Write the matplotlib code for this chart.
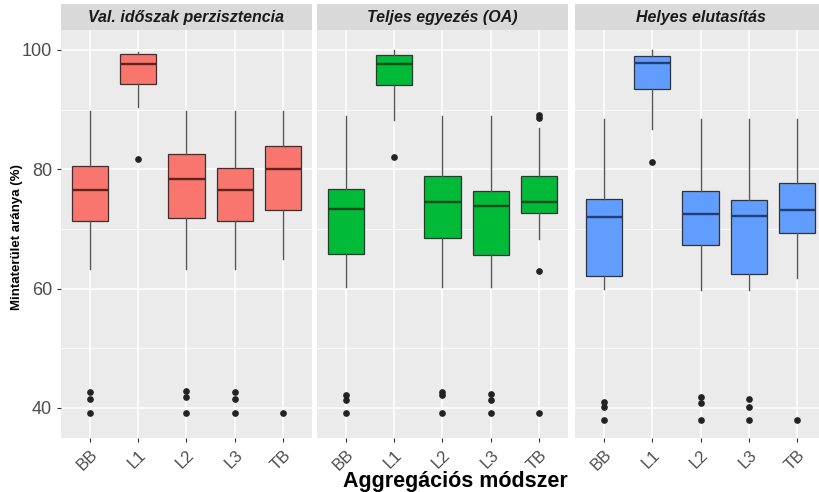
import matplotlib
matplotlib.use("Agg")
import matplotlib.pyplot as plt
from matplotlib.patches import Rectangle

plt.rcParams['font.family'] = ['Liberation Sans', 'DejaVu Sans']

methods = ["BB", "L1", "L2", "L3", "TB"]
facets = ["Val. időszak perzisztencia", "Teljes egyezés (OA)", "Helyes elutasítás"]
colors = ["#F8766D", "#00BA38", "#619CFF"]

# box statistics per facet, one value per method
q1 = [
    [71.4, 94.3, 71.9, 71.4, 73.1],
    [65.8, 94.1, 68.5, 65.7, 72.6],
    [62.1, 93.4, 67.3, 62.5, 69.3],
]
medians = [
    [76.5, 97.6, 78.4, 76.5, 80.0],
    [73.3, 97.7, 74.5, 73.8, 74.5],
    [72.0, 97.8, 72.5, 72.2, 73.2],
]
q3 = [
    [80.6, 99.4, 82.5, 80.3, 83.9],
    [76.7, 99.2, 78.9, 76.4, 78.8],
    [75.0, 99.0, 76.4, 74.8, 77.7],
]
whisk_lo = [
    [63.3, 90.5, 63.3, 63.3, 65.0],
    [60.2, 88.3, 60.2, 60.2, 68.3],
    [59.9, 86.8, 59.8, 59.8, 61.8],
]
whisk_hi = [
    [89.8, 99.7, 89.8, 89.8, 89.8],
    [89.0, 100.0, 89.0, 89.0, 86.9],
    [88.4, 100.0, 88.4, 88.4, 88.4],
]
outliers = [
    [[42.7, 41.5, 39.1], [81.7], [42.9, 41.9, 39.1], [42.6, 41.5, 39.1], [39.1]],
    [[42.1, 41.3, 39.1], [82.0], [42.7, 42.2, 39.1], [42.4, 41.4, 39.1], [89.1, 88.6, 62.9, 39.1]],
    [[41.0, 40.1, 38.0], [81.3], [41.8, 40.9, 38.0], [41.5, 40.2, 38.0], [38.0]],
]
medline_colors = ["#5E2420", "#0B4A1E", "#233F6E"]

fig = plt.figure(figsize=(8.2, 4.92), dpi=100)

W, H = 820, 492
panel_left = [61, 317, 575]
panel_w = 251
panel_top, panel_bot = 30, 438
strip_top = 4

grey30 = "#4D4D4D"
edge = "#333333"

for i in range(3):
    ax = fig.add_axes([panel_left[i] / W, 1 - panel_bot / H,
                       panel_w / W, (panel_bot - panel_top) / H])
    ax.set_facecolor("#EBEBEB")
    for s in ax.spines.values():
        s.set_visible(False)

    stats = []
    for j in range(len(methods)):
        stats.append(dict(med=medians[i][j], q1=q1[i][j], q3=q3[i][j],
                          whislo=whisk_lo[i][j], whishi=whisk_hi[i][j],
                          fliers=outliers[i][j]))
    pos = list(range(1, len(methods) + 1))
    ax.bxp(stats, positions=pos, widths=0.75, patch_artist=True, showcaps=False,
           boxprops=dict(facecolor=colors[i], edgecolor=edge, linewidth=0.9),
           medianprops=dict(color=medline_colors[i], linewidth=1.7),
           whiskerprops=dict(color="#555555", linewidth=1.0),
           flierprops=dict(marker="o", markersize=3.8, markerfacecolor="#222222",
                           markeredgecolor="#222222"),
           zorder=3)

    ax.set_xlim(0.4, 5.6)
    ax.set_ylim(34.97, 103.35)
    ax.set_yticks([40, 60, 80, 100])
    ax.set_yticks([50, 70, 90], minor=True)
    ax.set_xticks(pos)
    ax.grid(True, which="major", color="white", linewidth=1.1, zorder=0)
    ax.grid(True, which="minor", axis="y", color="white", linewidth=0.55, zorder=0)
    ax.set_axisbelow(True)
    ax.set_xticklabels(methods, rotation=45, ha="right", va="top",
                       rotation_mode="anchor", fontsize=12, color=grey30)
    ax.tick_params(axis="both", which="major", length=3, width=0.8, color="#333333")
    ax.tick_params(axis="y", which="minor", length=0)
    if i == 0:
        ax.set_yticklabels(["40", "60", "80", "100"], fontsize=13, color=grey30)
    else:
        ax.tick_params(axis="y", which="major", length=0, labelleft=False)

    # facet strip
    sax = fig.add_axes([panel_left[i] / W, 1 - panel_top / H,
                        panel_w / W, (panel_top - strip_top) / H])
    sax.add_patch(Rectangle((0, 0), 1, 1, color="#D9D9D9", transform=sax.transAxes))
    sax.set_axis_off()
    sax.text(0.5, 0.48, facets[i], ha="center", va="center", fontsize=11.5,
             fontweight="bold", fontstyle="italic", color="#1A1A1A",
             transform=sax.transAxes)

fig.text(455 / W, 1 - 481 / H, "Aggregációs módszer", ha="center", va="center",
         fontsize=15.5, fontweight="bold", color="black")
fig.text(17 / W, 1 - 237 / H, "Mintaterület aránya (%)", ha="center", va="center",
         rotation=90, fontsize=9.5, fontweight="bold", color="black")

fig.savefig("out.png", dpi=100)
